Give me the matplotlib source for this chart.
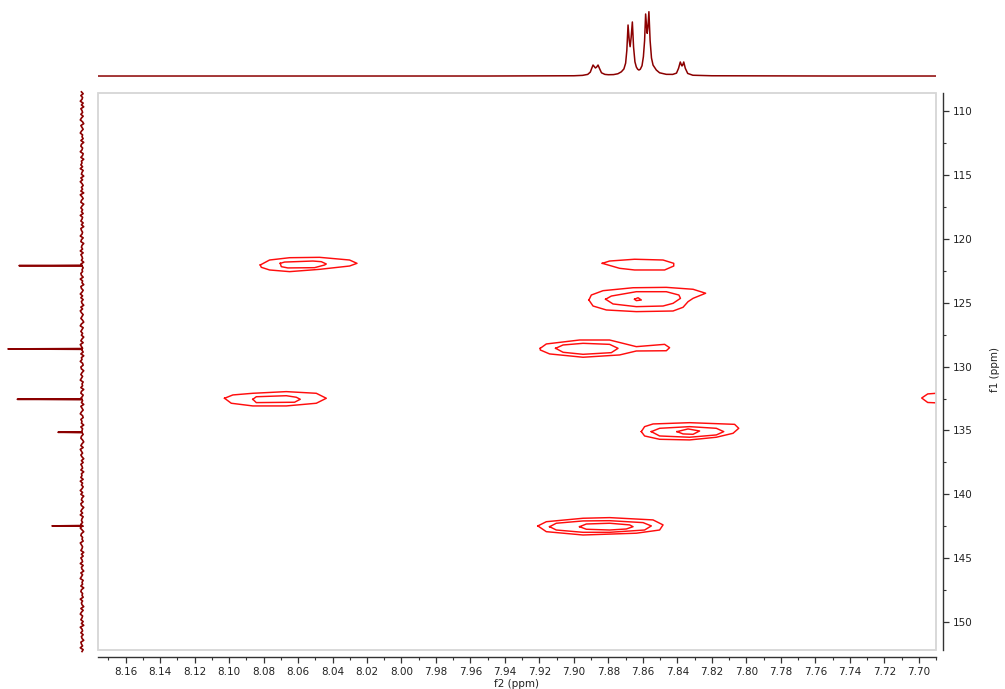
import numpy as np
import matplotlib
matplotlib.use("Agg")
import matplotlib.pyplot as plt
from matplotlib.ticker import MultipleLocator, FormatStrFormatter
from matplotlib.patches import Rectangle

# ---------------- data ----------------
F2_LIMITS = (8.176, 7.690)
F1_LIMITS = (152.18, 108.59)

# 1H projection (top), f2 ppm vs normalised intensity
TOP_PPM = [8.176, 7.95, 7.90, 7.895, 7.892, 7.8905, 7.8895, 7.8889, 7.8880, 7.8875,
           7.8868, 7.8860, 7.8852, 7.8840, 7.8820, 7.880, 7.877, 7.8745, 7.8725, 7.871,
           7.870, 7.8693, 7.8686, 7.8679, 7.8674, 7.8668, 7.8661, 7.8654, 7.8646, 7.8638,
           7.8630, 7.8623, 7.8615, 7.8605, 7.8597, 7.8590, 7.8584, 7.8578, 7.8575, 7.8571,
           7.8565, 7.8558, 7.8550, 7.8541, 7.8522, 7.8503, 7.8464, 7.8427, 7.8405, 7.8393,
           7.8383, 7.8376, 7.8373, 7.8369, 7.8363, 7.8354, 7.8340, 7.831, 7.82, 7.75, 7.690]
TOP_INT = [0.0, 0.0, 0.004, 0.01, 0.025, 0.06, 0.13, 0.171, 0.14, 0.125,
           0.14, 0.171, 0.12, 0.05, 0.025, 0.02, 0.022, 0.035, 0.065, 0.11,
           0.20, 0.40, 0.793, 0.55, 0.456, 0.60, 0.840, 0.45, 0.22, 0.14,
           0.105, 0.093, 0.105, 0.16, 0.30, 0.55, 0.964, 0.75, 0.664, 0.75,
           1.0, 0.55, 0.28, 0.17, 0.093, 0.05, 0.026, 0.025, 0.045, 0.12,
           0.218, 0.17, 0.156, 0.17, 0.218, 0.12, 0.04, 0.012, 0.004, 0.0, 0.0]

# 13C projection (left): peaks and baseline noise (units of 1/130 of max)
SIDE_PEAK_PPM = [122.10, 128.62, 132.56, 135.14, 142.47]
SIDE_PEAK_INT = [0.851, 1.000, 0.874, 0.324, 0.405]
SIDE_RANGE = (108.5, 152.3)
SIDE_NOISE = [
    1, -2, 2, -1, 0, 3, -2, 1, -3, 2, 0, -1, 2, -2, 1, 3, -1, -3, 2, 0,
    -2, 1, 3, -1, 0, -2, 2, -3, 1, 2, -1, 0, 3, -2, -1, 2, -3, 1, 0, 2,
    -1, 3, -2, 0, 1, -3, 2, -1, 3, 0, -2, 1, -1, 2, -3, 3, 0, -2, 1, 2,
    -3, 0, 2, -1, 1, -2, 3, -1, 0, 2, -2, 1, -3, 2, 1, -1, 0, 3, -2, 1,
    2, -3, 0, 1, -1, 3, -2, 2, 0, -1, 1, -3, 2, 3, -2, 0, -1, 2, 1, -2,
    3, -1, 0, -3, 2, 1, -2, 0, 3, -1, 2, -2, 1, 0, -3, 2, -1, 3, 1, -2,
    0, 2, -1, -3, 1, 3, -2, 0, 2, -1, 1, -3, 0, 2, -2, 3, 1, -1, 0, -2,
    2, -3, 1, 0, 3, -1, -2, 2, 1, -3, 0, 2, -1, 1, 3, -2, 0, -1, 2, -3,
    1, 2, -2, 0, 3, -1, 1, -3, 2, 0, -2, 1, 3, -1, -2, 2, 0, 1, -3, 2,
    -1, 0, 3, -2, 1, 2, -1, -3, 0, 2, -2, 3, 1, -1, 2, 0, -3, 1, -2, 2,
    0, -1, 2, -3, 1, 0, 2, -2, 3, -1, 1, -2, 0, 3, -1, 2, -3, 0, 1, -2,
    2, 1, -3, 0, 2, -1, 3, -2, 0, 1, -1, 2, -2, 3, 0, -3, 1, 2, -1, 0,
    -2, 3, 1, -1, 0, 2, -3, 1, -2, 2, 0, -1, 3, -2, 1, 0, -3, 2, -1, 1,
    3, -2, 0, -1, 2, -3, 1, 2, -1, 0, -2, 3, -1, 1, 0, -3, 2, -2, 1, 3,
    -1, 0, 2, -2, 1, -3, 3, 0, -1, 2, -2, 1, 0, -3, 2, 1, -1, 3, -2, 0,
]
NOISE_UNIT = 130.0

# 2D contour lines (f2 ppm, f1 ppm)
A_OUTER = [(8.0819, 122.05), (8.0765, 121.66), (8.0649, 121.48), (8.0475, 121.45), (8.0301, 121.66),
           (8.0258, 121.92), (8.0301, 122.13), (8.0475, 122.39), (8.0649, 122.57), (8.0765, 122.44),
           (8.0813, 122.23)]
A_INNER = [(8.0703, 121.92), (8.0697, 122.18), (8.0659, 122.28), (8.0504, 122.26), (8.0446, 122.05),
           (8.0436, 121.97), (8.0465, 121.79), (8.0514, 121.74), (8.0678, 121.82)]
B_OUTER = [(8.1026, 132.48), (8.0978, 132.22), (8.0862, 132.09), (8.0668, 131.96), (8.0494, 132.09),
           (8.0436, 132.48), (8.0494, 132.87), (8.0668, 133.08), (8.0862, 133.08), (8.0987, 132.87)]
B_INNER = [(8.0862, 132.56), (8.0842, 132.36), (8.0668, 132.28), (8.0610, 132.40), (8.0587, 132.56),
           (8.0620, 132.79), (8.0842, 132.82)]
C_OUTER = [(7.8835, 121.92), (7.8793, 121.74), (7.8648, 121.60), (7.8483, 121.66), (7.8421, 121.92),
           (7.8421, 122.13), (7.8474, 122.44), (7.8648, 122.44), (7.8735, 122.31)]
D_OUTER = [(7.8913, 124.79), (7.8899, 124.40), (7.8831, 124.06), (7.8657, 123.83), (7.8464, 123.80),
           (7.8309, 123.95), (7.8236, 124.26), (7.8309, 124.66), (7.8338, 124.92), (7.8367, 125.36),
           (7.8425, 125.65), (7.8638, 125.70), (7.8812, 125.57), (7.8889, 125.26)]
D_MIDDLE = [(7.8816, 124.73), (7.8783, 124.48), (7.8638, 124.14), (7.8464, 124.14), (7.8391, 124.40),
            (7.8382, 124.66), (7.8425, 125.05), (7.8483, 125.26), (7.8638, 125.31), (7.8773, 125.10)]
D_INNER = [(7.8648, 124.73), (7.8628, 124.61), (7.8609, 124.79), (7.8638, 124.84)]
E_OUTER = [(7.9195, 128.57), (7.9160, 128.23), (7.8967, 127.92), (7.8793, 127.92), (7.8638, 128.44),
           (7.8474, 128.26), (7.8445, 128.52), (7.8464, 128.76), (7.8638, 128.78), (7.8735, 129.09),
           (7.8947, 129.27), (7.9141, 129.01), (7.9195, 128.70)]
E_INNER = [(7.9106, 128.57), (7.9063, 128.31), (7.8947, 128.18), (7.8793, 128.26), (7.8744, 128.57),
           (7.8783, 128.91), (7.8947, 129.04), (7.9063, 128.88)]
F_OUTER = [(7.8609, 135.09), (7.8590, 134.70), (7.8541, 134.49), (7.8329, 134.39), (7.8068, 134.52),
           (7.8044, 134.83), (7.8077, 135.22), (7.8174, 135.53), (7.8329, 135.74), (7.8503, 135.69),
           (7.8590, 135.43)]
F_MIDDLE = [(7.8551, 135.09), (7.8503, 134.83), (7.8329, 134.70), (7.8174, 134.83), (7.8131, 135.09),
            (7.8174, 135.35), (7.8329, 135.53), (7.8503, 135.43)]
F_INNER = [(7.8402, 135.09), (7.8338, 134.88), (7.8271, 135.04), (7.8309, 135.30), (7.8367, 135.27)]
G_OUTER = [(7.9209, 142.47), (7.9160, 142.14), (7.8947, 141.87), (7.8793, 141.82), (7.8541, 142.00),
           (7.8483, 142.39), (7.8503, 142.79), (7.8638, 143.04), (7.8947, 143.18), (7.9160, 142.92)]
G_MIDDLE = [(7.9141, 142.53), (7.9102, 142.26), (7.8947, 142.08), (7.8793, 142.06), (7.8599, 142.21),
            (7.8551, 142.47), (7.8590, 142.79), (7.8793, 142.97), (7.8947, 142.97), (7.9102, 142.79)]
G_INNER = [(7.8967, 142.53), (7.8928, 142.32), (7.8793, 142.26), (7.8677, 142.39), (7.8657, 142.53),
           (7.8696, 142.71), (7.8793, 142.79), (7.8928, 142.73)]
H_EDGE = [(7.6878, 132.07), (7.6948, 132.14), (7.6983, 132.46), (7.6948, 132.81), (7.6878, 132.85)]

CLOSED_CONTOURS = [A_OUTER, A_INNER, B_OUTER, B_INNER, C_OUTER, D_OUTER, D_MIDDLE, D_INNER,
                   E_OUTER, E_INNER, F_OUTER, F_MIDDLE, F_INNER, G_OUTER, G_MIDDLE, G_INNER]
OPEN_CONTOURS = [H_EDGE]

XLABEL = "f2 (ppm)"
YLABEL = "f1 (ppm)"

# ---------------- figure ----------------
W, H = 1005, 689
fig = plt.figure(figsize=(W / 100, H / 100), dpi=100)
plt.rcParams['font.family'] = ['DejaVu Sans']

SPEC_COLOR = '#8b0000'
CONT_COLOR = '#ff0d0d'
AX_COLOR = '#333333'
BOX_COLOR = '#d6d6d6'

ax = fig.add_axes([98 / W, 1 - 650 / H, 838 / W, 557 / H])
ax.set_xlim(*F2_LIMITS)
ax.set_ylim(*F1_LIMITS)

for c in CLOSED_CONTOURS:
    xs = [p[0] for p in c] + [c[0][0]]
    ys = [p[1] for p in c] + [c[0][1]]
    ax.plot(xs, ys, color=CONT_COLOR, lw=1.05, solid_joinstyle='round')
for c in OPEN_CONTOURS:
    ax.plot([p[0] for p in c], [p[1] for p in c], color=CONT_COLOR, lw=1.05)

# frame box
ax.add_patch(Rectangle((0, 0), 1, 1, transform=ax.transAxes, fill=False,
                       ec=BOX_COLOR, lw=1.3, clip_on=False, zorder=5))
ax.spines['top'].set_visible(False)
ax.spines['left'].set_visible(False)
for s in ('bottom', 'right'):
    ax.spines[s].set_position(('outward', 5))
    ax.spines[s].set_color(AX_COLOR)
    ax.spines[s].set_linewidth(1.0)

ax.yaxis.tick_right()
ax.xaxis.set_major_locator(MultipleLocator(0.02))
ax.xaxis.set_minor_locator(MultipleLocator(0.01))
ax.xaxis.set_major_formatter(FormatStrFormatter('%.2f'))
ax.yaxis.set_major_locator(MultipleLocator(5))
ax.yaxis.set_minor_locator(MultipleLocator(2.5))
ax.yaxis.set_major_formatter(FormatStrFormatter('%d'))
ax.tick_params(which='major', length=4, width=0.9, color=AX_COLOR, labelsize=7.5,
               labelcolor='#222222', direction='out')
ax.tick_params(which='minor', length=2.5, width=0.8, color=AX_COLOR, direction='out')
ax.tick_params(axis='x', which='major', pad=3.5)
ax.tick_params(axis='y', which='major', pad=3)

fig.text(517 / W, 1 - 684 / H, XLABEL, ha='center', va='center', fontsize=7.5, color='#222222')
fig.text(995 / W, 1 - 370 / H, YLABEL, ha='center', va='center', rotation=90,
         fontsize=7.5, color='#222222')

# top 1D spectrum
axt = fig.add_axes([98 / W, 1 - 80 / H, 838 / W, 75 / H])
axt.set_xlim(*F2_LIMITS)
axt.set_ylim(-0.062, 1.104)
axt.plot(TOP_PPM, TOP_INT, color=SPEC_COLOR, lw=1.1)
axt.axis('off')

# left 1D spectrum
axs = fig.add_axes([0, 1 - 650 / H, 92 / W, 557 / H])
axs.set_ylim(*F1_LIMITS)
axs.set_xlim(1.108, -0.135)
f1_grid = np.linspace(SIDE_RANGE[0], SIDE_RANGE[1], len(SIDE_NOISE))
noise = np.array(SIDE_NOISE) / NOISE_UNIT
pts_y = list(f1_grid)
pts_x = list(noise)
for p, h in zip(SIDE_PEAK_PPM, SIDE_PEAK_INT):
    pts_y += [p - 0.03, p, p + 0.03]
    pts_x += [0.0, h, 0.0]
order = np.argsort(pts_y, kind='stable')
axs.plot(np.array(pts_x)[order], np.array(pts_y)[order], color=SPEC_COLOR, lw=1.2,
         clip_on=False)
axs.axis('off')

fig.savefig('out.png', dpi=100)
